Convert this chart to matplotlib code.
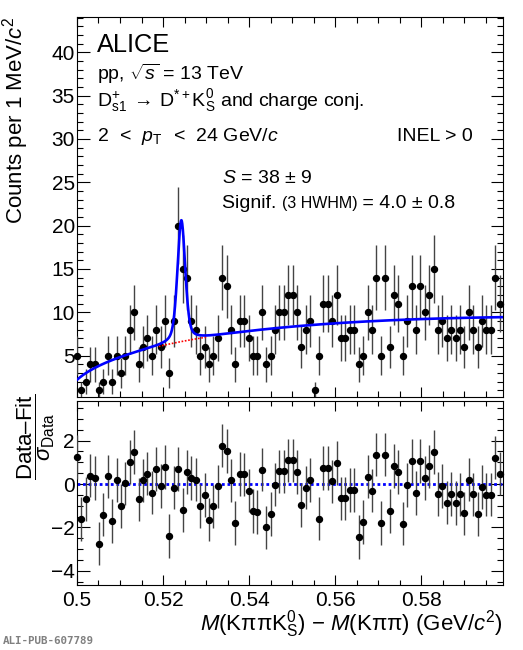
import numpy as np
import matplotlib
matplotlib.use("Agg")
import matplotlib.pyplot as plt
from matplotlib.ticker import MultipleLocator

plt.rcParams['font.family'] = ['Liberation Sans', 'DejaVu Sans']
plt.rcParams['mathtext.fontset'] = 'custom'
plt.rcParams['mathtext.rm'] = 'Liberation Sans'
plt.rcParams['mathtext.it'] = 'Liberation Sans:italic'
plt.rcParams['mathtext.bf'] = 'Liberation Sans:bold'
plt.rcParams['mathtext.sf'] = 'Liberation Sans'

# bin positions (GeV/c^2)
BIN_START = 0.500
BIN_STEP = 0.001023

# counts per bin
counts = [5, 1, 2, 4, 4, 1, 2, 5, 2, 5,
          3, 5, 8, 10, 4, 6, 7, 5, 8, 6,
          9, 3, 9, 20, 15, 14, 9, 8, 5, 6,
          4, 5, 7, 14, 13, 8, 4, 9, 9, 7,
          5, 5, 10, 4, 5, 8, 10, 10, 12, 12,
          10, 6, 8, 9, 1, 5, 11, 11, 9, 12,
          7, 7, 8, 8, 4, 5, 10, 8, 14, 5,
          14, 6, 12, 11, 5, 9, 13, 8, 13, 10,
          12, 15, 8, 9, 7, 8, 7, 8, 6, 10,
          8, 6, 9, 8, 8, 14, 11]

# (data - fit) / sigma ; bin 54 is off scale in the lower pad
pulls = [1.25, -1.62, -0.68, 0.38, 0.27, -2.75, -1.41, 0.35, -1.70, 0.18,
         -1.02, 0.03, 1.01, 1.48, -0.71, 0.17, 0.48, -0.40, 0.69, -0.10,
         0.79, -2.40, -0.17, 0.69, -1.20, 0.55, 0.28, 0.20, -1.02, -0.50,
         -1.64, -1.03, -0.11, 1.77, 1.53, 0.17, -1.80, 0.47, 0.44, -0.30,
         -1.25, -1.28, 0.66, -2.00, -1.38, -0.03, 0.59, 0.59, 1.09, 1.09,
         0.55, -0.97, -0.16, 0.19, np.nan, -1.60, 0.73, 0.73, 0.12, 0.97,
         -0.66, -0.66, -0.28, -0.28, -2.44, -1.75, 0.34, -0.31, 1.36, -1.80,
         1.36, -1.25, 0.84, 0.56, -1.82, -0.05, 1.07, -0.42, 1.07, 0.28,
         0.82, 1.48, -0.45, -0.10, -0.86, -0.45, -0.87, -0.47, -1.35, 0.20,
         -0.48, -1.38, -0.14, -0.49, -0.49, 1.22, 0.48]

# fit result: threshold background + narrow peak
BKG_NORM = 45.4
BKG_THR = 0.4976
BKG_POW = 0.5
BKG_SLOPE = 4.2
SIG_AMP = 14.0
SIG_MEAN = 0.52425
SIG_SIGMA = 0.0009
SIG_GAMMA = 0.0011
SIG_FRAC_L = 0.4
BKG_SHOW = (0.519, 0.530)

XMIN, XMAX = 0.5, 0.599


def bkg(x):
    u = np.clip(x - BKG_THR, 0, None)
    return BKG_NORM * u**BKG_POW * np.exp(-BKG_SLOPE * u)


def sig(x):
    d = x - SIG_MEAN
    lor = 1.0 / (1.0 + (d / SIG_GAMMA)**2)
    gau = np.exp(-0.5 * (d / SIG_SIGMA)**2)
    return SIG_AMP * (SIG_FRAC_L * lor + (1 - SIG_FRAC_L) * gau)


def style_axis(ax, xmaj, xmin, ymaj, ymin, xl=(7.5, 4), yl=(9, 4.5)):
    ax.xaxis.set_major_locator(MultipleLocator(xmaj))
    ax.xaxis.set_minor_locator(MultipleLocator(xmin))
    ax.yaxis.set_major_locator(MultipleLocator(ymaj))
    ax.yaxis.set_minor_locator(MultipleLocator(ymin))
    ax.tick_params(which='both', direction='in', top=True, right=True,
                   width=0.8, labelsize=15)
    ax.tick_params(axis='x', which='major', length=xl[0], pad=4)
    ax.tick_params(axis='x', which='minor', length=xl[1])
    ax.tick_params(axis='y', which='major', length=yl[0], pad=1.5)
    ax.tick_params(axis='y', which='minor', length=yl[1])
    for s in ax.spines.values():
        s.set_linewidth(0.8)


mass = BIN_START + BIN_STEP * np.arange(len(counts))
cnt = np.array(counts, dtype=float)
err = np.sqrt(cnt)

fig = plt.figure(figsize=(5.23, 6.5), dpi=100)
ax = fig.add_axes([0.1472, 0.3888, 0.8145, 0.5855])
axr = fig.add_axes([0.1472, 0.1, 0.8145, 0.2826])

# upper pad
eb = ax.errorbar(mass, cnt, yerr=err, fmt='o', color='black', ms=4.3,
                 ecolor='#444444', elinewidth=1.0, capsize=0, zorder=3)
eb[0].set_clip_on(False)

xf = np.linspace(XMIN, XMAX, 3000)
ax.plot(xf, bkg(xf) + sig(xf), color='#0000ff', lw=1.9, zorder=4)
xb = np.linspace(BKG_SHOW[0], BKG_SHOW[1], 200)
ax.plot(xb, bkg(xb), color='red', lw=1.2, ls=(0, (1, 1)), zorder=3.5)

ax.set_xlim(XMIN, XMAX)
ax.set_ylim(0.2, 44.1)
style_axis(ax, 0.02, 0.005, 5, 1)
ax.tick_params(axis='x', labelbottom=False)
ax.set_yticks([5, 10, 15, 20, 25, 30, 35, 40])

# lower pad
ebr = axr.errorbar(mass, pulls, yerr=1.0, fmt='o', color='black', ms=4.3,
                   ecolor='#444444', elinewidth=1.0, capsize=0, zorder=3)
ebr[0].set_clip_on(False)
axr.axhline(0, color='#0000ff', lw=2.0, ls=(0, (1, 1)), zorder=2)
axr.set_xlim(XMIN, XMAX)
axr.set_ylim(-4.65, 3.81)
style_axis(axr, 0.02, 0.005, 2, 0.5, xl=(7, 3.5))
axr.set_xticks([0.50, 0.52, 0.54, 0.56, 0.58])
axr.set_xticklabels(['0.5', '0.52', '0.54', '0.56', '0.58'])


def fx(px):
    return px / 523.0


def fy(py):
    return 1.0 - py / 650.0


# axis titles
fig.text(fx(16), fy(17), r"Counts per 1 MeV/$c^{2}$", rotation=90,
         ha='center', va='top', fontsize=16)
fig.text(fx(503), fy(631), r"$M(\mathrm{K\pi\pi K^{0}_{S}})$ $-$ "
         r"$M(\mathrm{K\pi\pi})$ (GeV/$c^{2}$)",
         ha='right', va='baseline', fontsize=16)
fig.text(fx(36), fy(437),
         r"$\dfrac{\mathrm{Data–Fit}}{\sigma_{\mathrm{Data}}}$",
         rotation=90, ha='center', va='center', fontsize=16)

# labels in the upper pad
fig.text(fx(97), fy(51.7), "ALICE", fontsize=18.3, va='baseline')
fig.text(fx(97), fy(79.5), r"pp, $\sqrt{s}$ = 13 TeV", fontsize=14,
         va='baseline')
fig.text(fx(97), fy(106.5),
         r"$\mathrm{D_{s1}^{+}}\;\rightarrow\,\mathrm{D^{*+}K^{0}_{S}}$"
         " and charge conj.", fontsize=14, va='baseline')
fig.text(fx(97), fy(141.5),
         r"2 $\,<\,$ $p_{\mathrm{T}}$ $\,<\,$ 24 GeV/$c$",
         fontsize=14, va='baseline')
fig.text(fx(473), fy(141.5), "INEL > 0", fontsize=14, va='baseline',
         ha='right')
fig.text(fx(222), fy(183.3), r"$S$ = 38 ± 9", fontsize=14, va='baseline')

# "Signif. (3 HWHM) = ..." with a smaller middle part
r = fig.canvas.get_renderer()
t1 = fig.text(fx(222), fy(208.3), "Signif. ", fontsize=14, va='baseline')
bb = t1.get_window_extent(r)
x2 = fig.transFigure.inverted().transform((bb.x1, 0))[0]
t2 = fig.text(x2, fy(208.3), "(3 HWHM)", fontsize=11.5, va='baseline')
bb = t2.get_window_extent(r)
x3 = fig.transFigure.inverted().transform((bb.x1, 0))[0]
fig.text(x3, fy(208.3), " = 4.0 ± 0.8", fontsize=14, va='baseline')

fig.text(fx(3), fy(641.5), "ALI-PUB-607789", fontsize=7.8,
         family='DejaVu Sans Mono', fontweight='bold', color='#808080',
         va='center')

fig.savefig("out.png", dpi=100)
